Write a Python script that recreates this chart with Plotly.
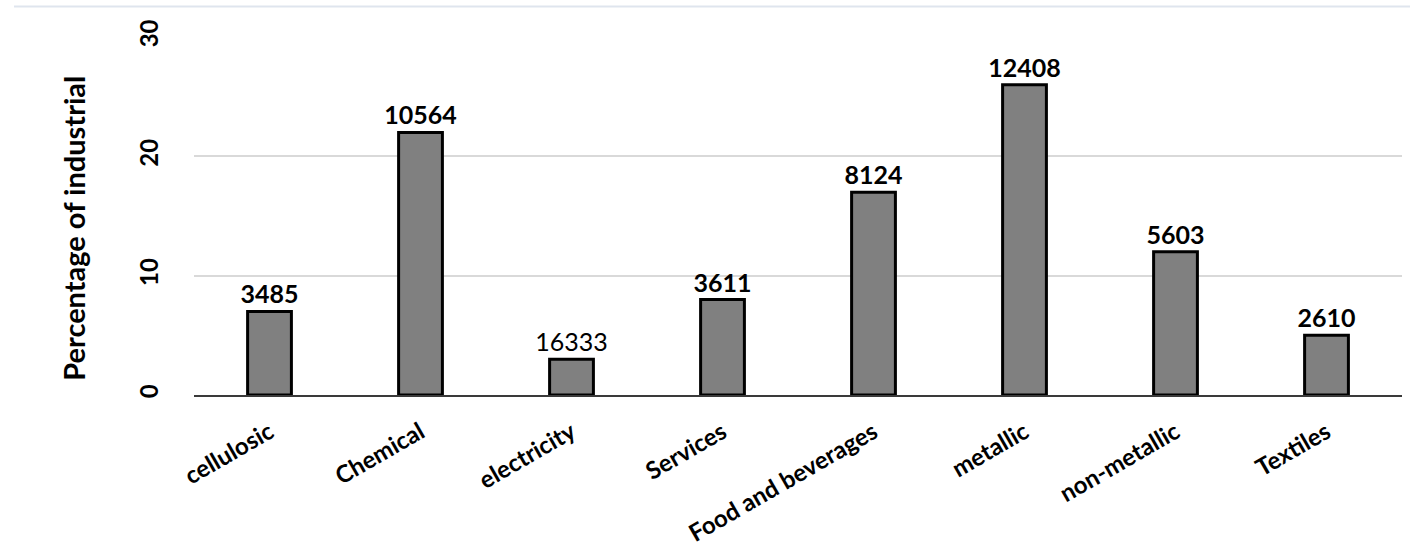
import plotly.graph_objects as go

# Industrial sectors and their share (%), with the count shown above each bar
sectors = ["cellulosic", "Chemical", "electricity", "Services",
           "Food and beverages", "metallic", "non-metallic", "Textiles"]
share_pct = [7, 22, 3, 8, 17, 26, 12, 5]
counts = [3485, 10564, 16333, 3611, 8124, 12408, 5603, 2610]
bold_label = [True, True, False, True, True, True, True, True]

y_ticks = [0, 10, 20, 30]
y_title = "Percentage of industrial"

FONT = "Lato"

bar_text = [f"<b>{c}</b>" if b else str(c) for c, b in zip(counts, bold_label)]

fig = go.Figure(
    go.Bar(
        x=sectors,
        y=share_pct,
        width=0.29,
        marker=dict(color="#808080", line=dict(color="#000000", width=3)),
        text=bar_text,
        textposition="outside",
        constraintext="none",
        textfont=dict(family=FONT, size=25, color="#000000"),
        cliponaxis=False,
    )
)

fig.update_layout(
    width=1410,
    height=555,
    margin=dict(l=194, r=8, t=37, b=158),
    paper_bgcolor="white",
    plot_bgcolor="white",
    showlegend=False,
    font=dict(family=FONT, color="#000000"),
    shapes=[
        dict(type="line", xref="paper", yref="paper",
             x0=-0.149, x1=1.01, y0=1.085, y1=1.085,
             line=dict(color="#dfe5ee", width=2)),
    ],
    annotations=[
        dict(text=f"<b>{y_title}</b>", xref="paper", yref="paper",
             x=-0.1, y=0.465, xanchor="center", yanchor="middle",
             textangle=-90, showarrow=False,
             font=dict(family=FONT, size=29, color="#000000")),
    ],
)

fig.update_xaxes(
    showgrid=False,
    showline=True,
    linecolor="#3a3a3a",
    linewidth=2,
    ticks="",
    tickangle=-30,
    ticklabelstandoff=12,
    tickfont=dict(family=FONT, size=24, color="#000000", weight="bold"),
)

fig.update_yaxes(
    range=[0, 30],
    tickvals=y_ticks,
    showgrid=True,
    gridcolor="#d9d9d9",
    gridwidth=1.5,
    zeroline=False,
    showline=False,
    ticks="",
    tickangle=-90,
    ticklabelstandoff=30,
    tickfont=dict(family=FONT, size=24, color="#000000", weight="bold"),
)

fig.write_html("out.html")
